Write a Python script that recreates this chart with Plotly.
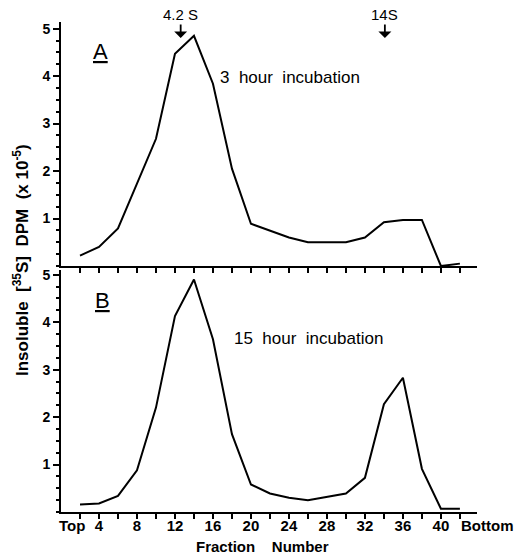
import plotly.graph_objects as go

# Fraction numbers (top of gradient = low numbers)
fractions = [2, 4, 6, 8, 10, 12, 14, 16, 18, 20, 22, 24, 26, 28, 30, 32, 34, 36, 38, 40, 42]

# Insoluble [35S] DPM (x10^-5)
dpm_3h = [0.22, 0.40, 0.79, 1.74, 2.68, 4.47, 4.85, 3.84, 2.05, 0.89, 0.75,
          0.60, 0.50, 0.50, 0.50, 0.60, 0.92, 0.97, 0.97, 0.0, 0.05]
dpm_15h = [0.16, 0.18, 0.34, 0.88, 2.20, 4.13, 4.90, 3.64, 1.64, 0.58, 0.39,
           0.30, 0.25, 0.32, 0.39, 0.72, 2.27, 2.83, 0.91, 0.07, 0.07]

x_major = list(range(4, 41, 4))
x_minor = list(range(2, 43, 4)) + [42]
y_ticks = [1, 2, 3, 4, 5]

# sedimentation markers (fraction number)
markers = [("4.2 S", 12.6), ("14S", 34.1)]

W, H = 520, 558
FONT = "Liberation Sans"
X0, X1 = 61, 477      # pixel extent of the fraction axis
XMAX = 43.8


def px(x):
    return x / W


def py(y):
    return (H - y) / H


def frac_px(f):
    return X0 + (X1 - X0) * f / XMAX


fig = go.Figure()
fig.add_trace(go.Scatter(x=fractions, y=dpm_3h, mode="lines",
                         line=dict(color="black", width=2), xaxis="x", yaxis="y"))
fig.add_trace(go.Scatter(x=fractions, y=dpm_15h, mode="lines",
                         line=dict(color="black", width=2), xaxis="x2", yaxis="y2"))

tickfont = dict(family=FONT, size=15, color="black", weight="bold")
common_x = dict(range=[0, XMAX], domain=[px(X0), px(X1)], showline=True, linecolor="black",
                linewidth=2, ticks="outside", ticklen=5, tickwidth=1.5,
                tickcolor="black", tickvals=x_major, showgrid=False, zeroline=False,
                minor=dict(tickvals=x_minor, ticks="outside", ticklen=5, tickwidth=1.5,
                           tickcolor="black", showgrid=False),
                automargin=False, tickfont=tickfont)
common_y = dict(showline=True, linecolor="black", linewidth=2, ticks="outside",
                ticklen=6, tickwidth=1.5, tickcolor="black", tickvals=y_ticks,
                showgrid=False, zeroline=False, automargin=False,
                minor=dict(dtick=0.25, ticks="outside", ticklen=3, tickcolor="black"),
                tickfont=dict(tickfont, size=14))

fig.update_layout(
    width=W, height=H,
    margin=dict(l=0, r=0, t=0, b=0),
    paper_bgcolor="white", plot_bgcolor="white",
    showlegend=False,
    xaxis=dict(common_x, anchor="y", showticklabels=False),
    yaxis=dict(common_y, anchor="x", range=[0, 5.14], domain=[py(266), py(22)]),
    xaxis2=dict(common_x, anchor="y2", ticklabelstandoff=-6),
    yaxis2=dict(common_y, anchor="x2", range=[0, 5.1], domain=[py(512), py(270)]),
)

bold = dict(family=FONT, size=15, color="black", weight="bold")
plain = dict(family=FONT, size=17, color="black")

annos = [
    dict(text="<u>A</u>", x=px(100), y=py(52), font=dict(plain, size=22)),
    dict(text="<u>B</u>", x=px(102), y=py(300), font=dict(plain, size=22)),
    dict(text="3  hour  incubation", x=px(218), y=py(77), xanchor="left", font=plain),
    dict(text="15  hour  incubation", x=px(232), y=py(338), xanchor="left", font=plain),
    dict(text="Top", x=px(72), y=py(525), font=bold),
    dict(text="Bottom", x=px(487), y=py(525), font=bold),
    dict(text="Fraction    Number", x=px(262), y=py(546), font=bold),
    dict(text="Insoluble  [<sup>35</sup>S]  DPM  (x 10<sup>-5</sup>)", x=px(21), y=py(260),
         textangle=-90, font=dict(bold, size=17)),
]
for label, f in markers:
    annos.append(dict(text=label, x=px(frac_px(f)), y=py(14), font=dict(plain, size=15)))
for a in annos:
    a.setdefault("xanchor", "center")
    fig.add_annotation(xref="paper", yref="paper", showarrow=False, yanchor="middle", **a)

# arrows under the markers
for label, f in markers:
    fig.add_annotation(xref="paper", yref="paper", x=px(frac_px(f)), y=py(38), text="",
                       showarrow=True, ax=0, ay=-15, arrowhead=1, arrowsize=1.2,
                       arrowwidth=1.8, arrowcolor="black")

# the page body has a default margin; drop it so the figure sits at the window's corner
fig.write_html("out.html", config={"displayModeBar": False},
               post_script="document.body.style.margin='0px';")
